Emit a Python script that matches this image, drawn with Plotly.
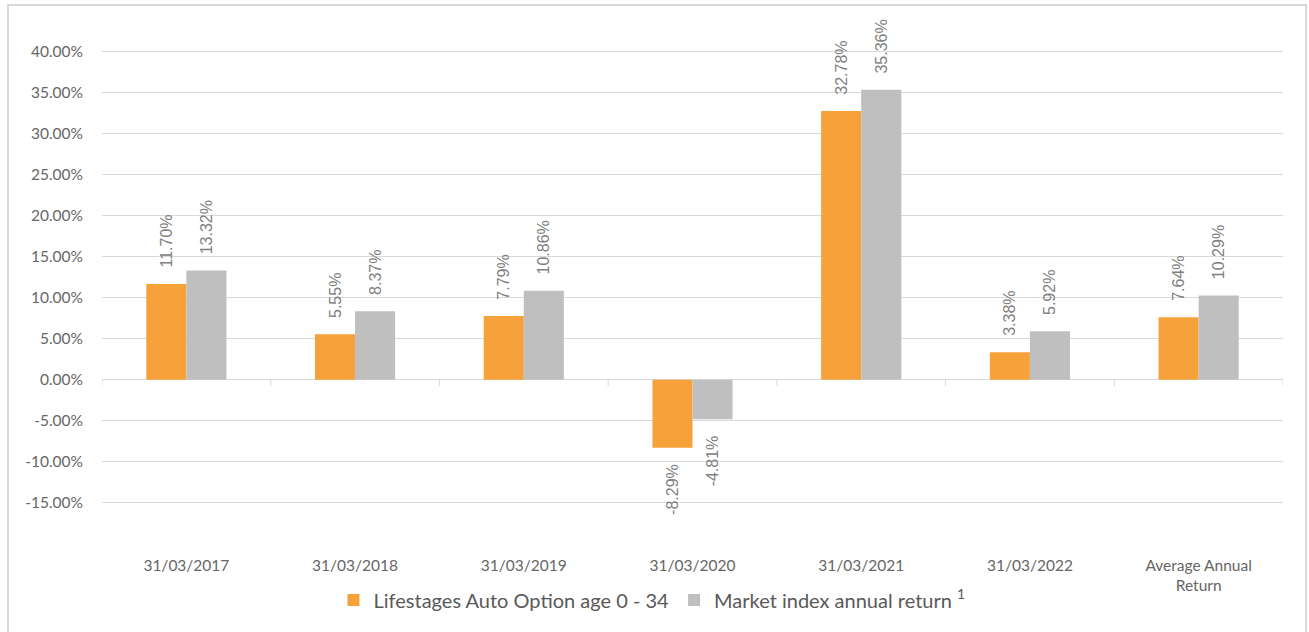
import plotly.graph_objects as go

categories = ["31/03/2017", "31/03/2018", "31/03/2019", "31/03/2020",
              "31/03/2021", "31/03/2022", "Average Annual<br>Return"]
lifestages = [11.70, 5.55, 7.79, -8.29, 32.78, 3.38, 7.64]
market = [13.32, 8.37, 10.86, -4.81, 35.36, 5.92, 10.29]
series_names = ["Lifestages Auto Option age 0 - 34", "Market index annual return <sup>1</sup>"]
y_ticks = [-15, -10, -5, 0, 5, 10, 15, 20, 25, 30, 35, 40]

ORANGE = "#F7A13A"
GREY = "#BFBFBF"
LABEL_GREY = "#808080"
AXIS_TXT = "#666666"
GRID = "#D9D9D9"

W, H = 1309, 632
L, R, T, B = 102, 26, 19, 84
Y_RANGE = [-20.5, 44]

pad = "\u00a0\u00a0\u00a0"


def labels(vals):
    return [f"{pad}{v:.2f}%{pad}" for v in vals]


fig = go.Figure()
for vals, name, col in [(lifestages, series_names[0], ORANGE), (market, series_names[1], GREY)]:
    fig.add_trace(go.Bar(
        x=categories, y=vals, name=name, marker=dict(color=col, line=dict(width=0)),
        text=labels(vals), textposition="outside", textangle=-90,
        textfont=dict(family="Liberation Sans, Arial, sans-serif", size=16, color=LABEL_GREY),
        constraintext="none", cliponaxis=False,
    ))

# category boundary ticks on the zero line
shapes = []
for i in range(len(categories) + 1):
    shapes.append(dict(type="line", xref="x", yref="y", x0=i - 0.5, x1=i - 0.5,
                       ysizemode="pixel", yanchor=0, y0=0, y1=-6,
                       line=dict(color=GRID, width=1)))
# outer chart frame
pw = W - L - R
ph = H - T - B
shapes.append(dict(type="rect", xref="paper", yref="paper",
                   x0=(8 - L) / pw, x1=(1306 - L) / pw,
                   y0=(H - B - 640) / ph, y1=(H - B - 5) / ph,
                   line=dict(color=GRID, width=2), fillcolor="rgba(0,0,0,0)", layer="below"))

fig.update_layout(
    width=W, height=H,
    margin=dict(l=L, r=R, t=T, b=B, autoexpand=False),
    paper_bgcolor="white", plot_bgcolor="white",
    barmode="group", bargap=0.525, bargroupgap=0,
    font=dict(family="Lato, Open Sans, sans-serif", color=AXIS_TXT),
    showlegend=True,
    legend=dict(orientation="h", xref="container", yref="container",
                x=652 / W, xanchor="center", y=1 - 600 / H, yanchor="middle",
                font=dict(size=20, color="#595959"), traceorder="normal"),
    xaxis=dict(type="category", categoryarray=categories, range=[-0.5, len(categories) - 0.5],
               showgrid=False, showline=False, ticks="", zeroline=False,
               ticklabelstandoff=6,
               tickfont=dict(size=15.5, color=AXIS_TXT)),
    yaxis=dict(range=Y_RANGE, tickvals=y_ticks,
               ticktext=[f"{v:.2f}%" for v in y_ticks],
               showgrid=True, gridcolor=GRID, gridwidth=1,
               zeroline=True, zerolinecolor=GRID, zerolinewidth=1,
               showline=False, ticks="", ticklabelstandoff=18,
               tickfont=dict(size=15.5, color=AXIS_TXT)),
    shapes=shapes,
)

fig.write_html("out.html", config={"displayModeBar": False},
               post_script="document.body.style.margin='0';document.body.style.overflow='hidden';")
